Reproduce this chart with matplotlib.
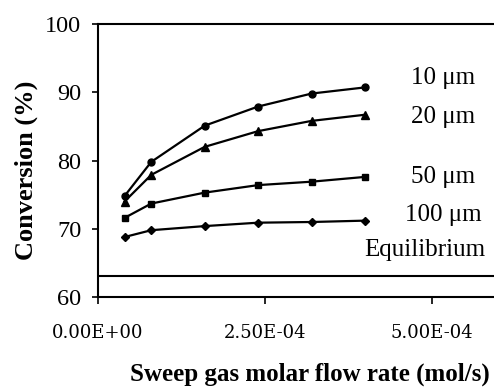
import matplotlib
matplotlib.use("Agg")
import matplotlib.pyplot as plt

# sweep gas molar flow rate (mol/s)
flow = [4e-5, 8e-5, 1.6e-4, 2.4e-4, 3.2e-4, 4e-4]

conv_10 = [74.8, 79.8, 85.1, 87.9, 89.8, 90.7]
conv_20 = [74.0, 77.9, 82.0, 84.3, 85.8, 86.7]
conv_50 = [71.6, 73.7, 75.3, 76.4, 76.9, 77.6]
conv_100 = [68.8, 69.8, 70.4, 70.9, 71.0, 71.2]
equilibrium = 63.1

series_labels = ["10 \u03bcm", "20 \u03bcm", "50 \u03bcm", "100 \u03bcm"]
x_ticks = [0, 2.5e-4, 5e-4]
x_ticklabels = ["0.00E+00", "2.50E-04", "5.00E-04"]
y_ticks = [60, 70, 80, 90, 100]

plt.rcParams['font.family'] = ['Liberation Serif', 'DejaVu Serif']

fig = plt.figure(figsize=(4.94, 3.91), dpi=100)
ax = fig.add_axes([0.198, 0.240, 0.802, 0.699])

lw = 1.6
ax.plot(flow, conv_10, color='black', lw=lw, marker='o', ms=5)
ax.plot(flow, conv_20, color='black', lw=lw, marker='^', ms=6)
ax.plot(flow, conv_50, color='black', lw=lw, marker='s', ms=4.5)
ax.plot(flow, conv_100, color='black', lw=lw, marker='D', ms=4.5)
ax.axhline(equilibrium, color='black', lw=1.5)

ax.set_xlim(0, 5.93e-4)
ax.set_ylim(60, 100)
ax.set_xticks(x_ticks)
ax.set_xticklabels(x_ticklabels, fontsize=13, family='DejaVu Serif')
ax.set_yticks(y_ticks)
ax.tick_params(axis='y', labelsize=17.5, length=4, width=1.2, direction='out', pad=8)
ax.tick_params(axis='x', length=5, width=1.2, direction='out', pad=14)

for s in ['left', 'bottom', 'top']:
    ax.spines[s].set_linewidth(1.5)
ax.spines['right'].set_visible(False)

ax.set_ylabel("Conversion (%)", fontsize=19, fontweight='bold')
ax.yaxis.set_label_coords(-0.15, 0.465)
ax.set_xlabel("Sweep gas molar flow rate (mol/s)", fontsize=18, fontweight='bold',
              va='baseline')
ax.xaxis.set_label_coords(0.535, -0.305)

# right-hand labels
label_y = [78, 117, 177, 215]
for lab, yp in zip(series_labels, label_y):
    fig.text(443 / 494, 1 - yp / 391, lab, fontsize=18, ha='center', va='center')
fig.text(485 / 494, 1 - 250 / 391, "Equilibrium", fontsize=18, ha='right', va='center')

fig.savefig("out.png", dpi=100)
